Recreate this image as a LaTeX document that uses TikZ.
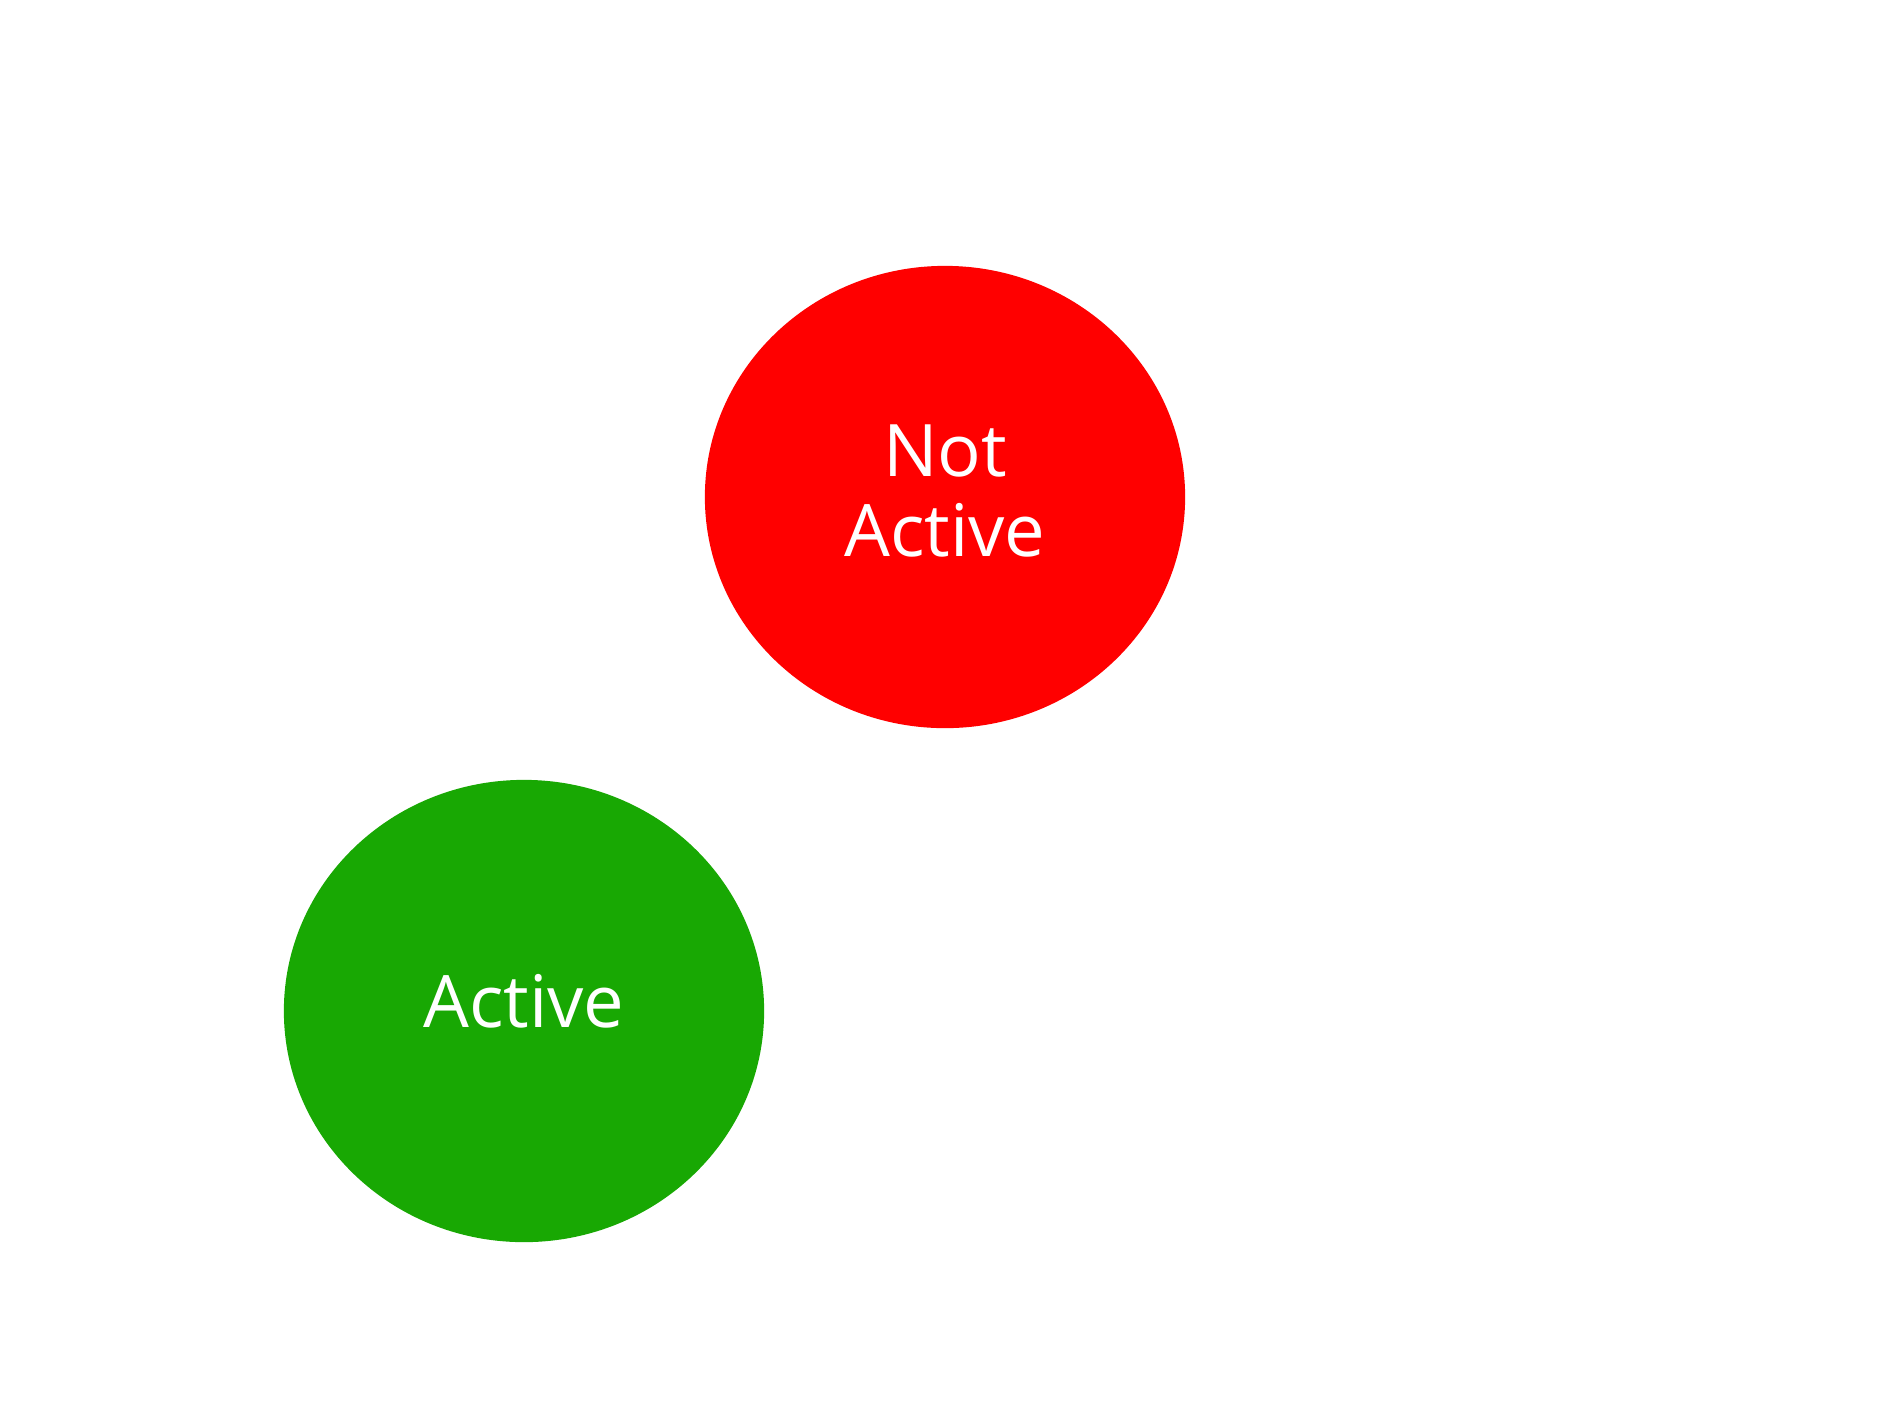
\documentclass[tikz,border=0pt]{standalone}
\usepackage{fontspec}
\setmainfont{Open Sans}
\usetikzlibrary{shapes.geometric}
\definecolor{stred}{HTML}{FF0000}
\definecolor{stgreen}{HTML}{18A803}
\tikzset{
  statebox/.style={ellipse, draw=none, inner sep=0pt, minimum width=4.80cm, minimum height=4.62cm},
  statelabel/.style={text=white, align=center, inner sep=0pt, font=\fontsize{20.6}{23}\selectfont}
}
\begin{document}
\begin{tikzpicture}[x=0.01cm,y=-0.01cm]
\useasboundingbox (0,0) rectangle (1890,1417);
\node[statebox, fill=stred] (notactive) at (945,497) {};
\node[statebox, fill=stgreen] (active) at (524,1011) {};
\node[statelabel] (notactivetext) at ([yshift=0.06cm]notactive.center) {Not\\Active};
\node[statelabel] (activetext) at ([yshift=0.10cm]active.center) {Active};
\end{tikzpicture}
\end{document}
